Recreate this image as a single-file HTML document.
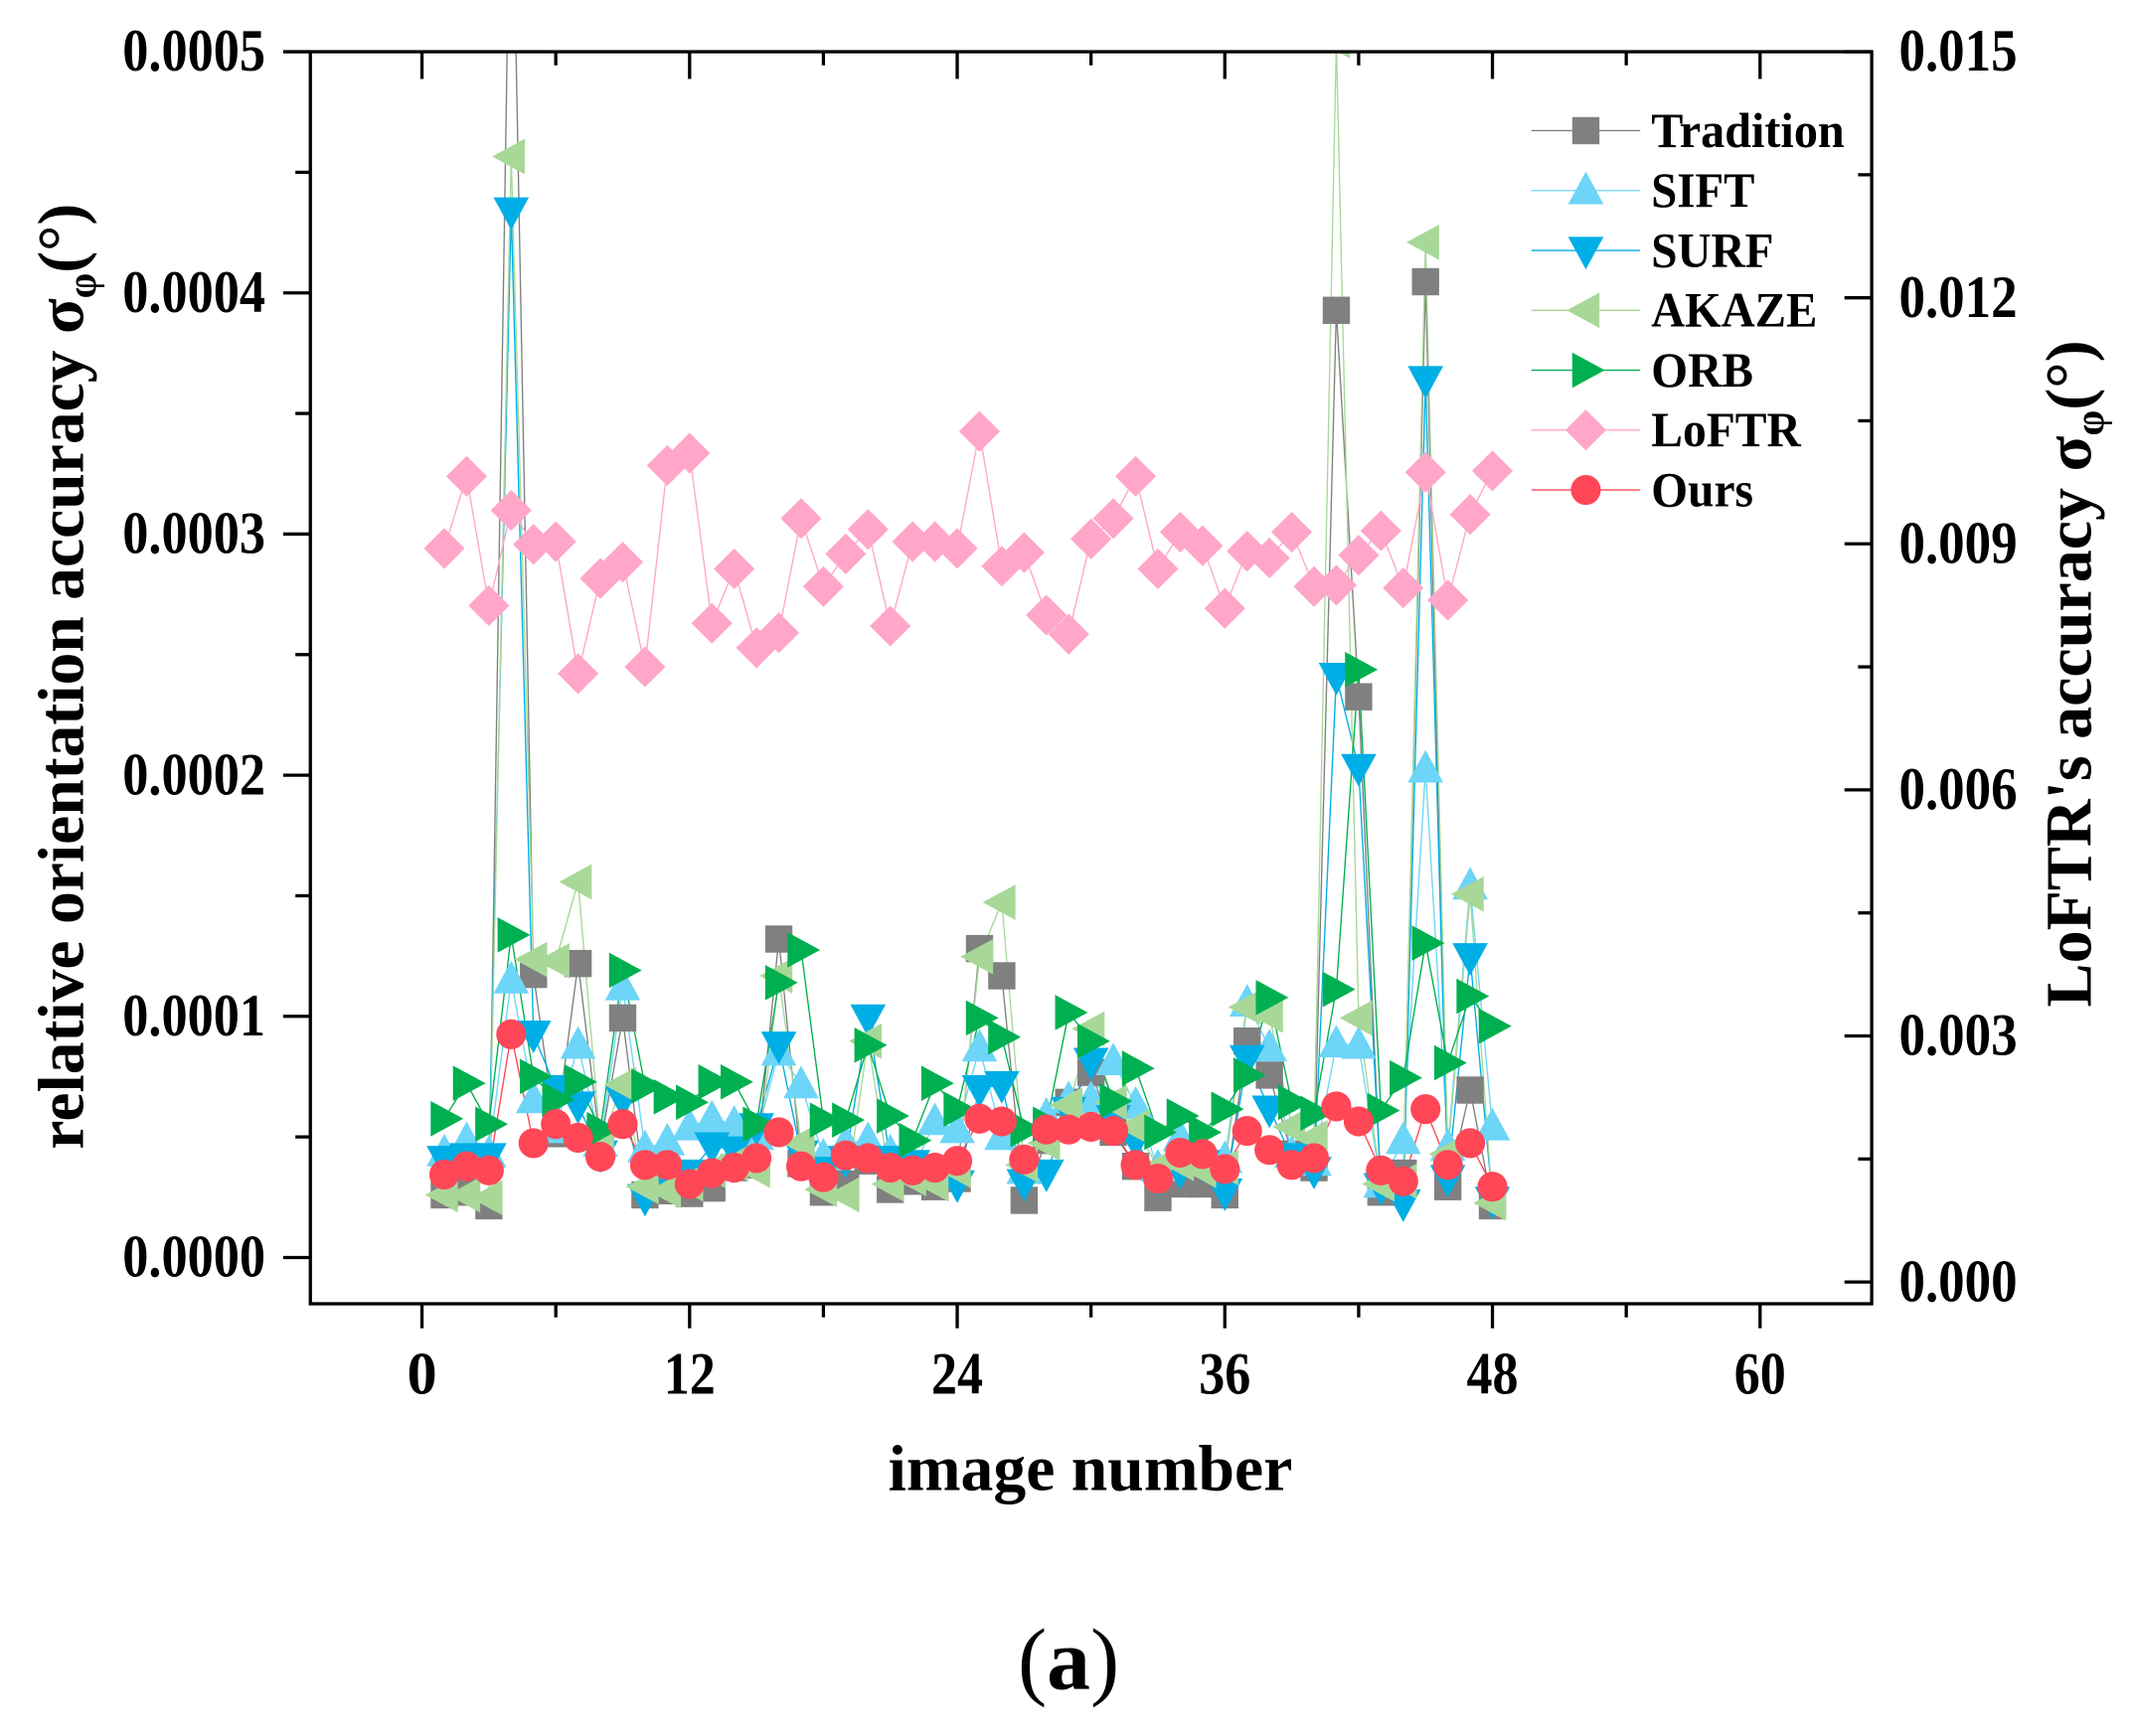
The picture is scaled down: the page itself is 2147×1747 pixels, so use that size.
<!DOCTYPE html>
<html><head><meta charset="utf-8"><style>
html,body{margin:0;padding:0;background:#fff;}
svg{display:block;}
text{font-family:"Liberation Serif","Times New Roman",serif;}
</style></head><body>
<svg id="s" width="2147" height="1747" viewBox="0 0 1567.7 1275.6" xmlns="http://www.w3.org/2000/svg">
<rect x="0" y="0" width="1567.7" height="1275.6" fill="#fff"/>
<defs><clipPath id="cp"><rect x="228" y="38" width="1147" height="920"/></clipPath></defs>
<g id="data" clip-path="url(#cp)"></g>
<g id="axes" stroke="#000" fill="none"></g>
<g id="labels" font-weight="bold" font-size="44" fill="#000"></g>
<g id="legend"></g>
<text x="801" y="1095" text-anchor="middle" font-weight="bold" font-size="48" textLength="297" lengthAdjust="spacingAndGlyphs">image number</text>
<text transform="translate(61,497) rotate(-90)" text-anchor="middle" font-weight="bold" font-size="48" textLength="695" lengthAdjust="spacingAndGlyphs">relative orientation accuracy σ<tspan font-size="30" dy="9">φ</tspan><tspan dy="-9">(°)</tspan></text>
<text transform="translate(1536,495) rotate(-90)" text-anchor="middle" font-weight="bold" font-size="48" textLength="490" lengthAdjust="spacingAndGlyphs">LoFTR's accuracy σ<tspan font-size="30" dy="9">φ</tspan><tspan dy="-9">(°)</tspan></text>
<text x="785" y="1241" text-anchor="middle" font-size="64">(<tspan font-weight="bold">a</tspan>)</text>
</svg>
<script>
const NS="http://www.w3.org/2000/svg";
function el(p,t,a){const e=document.createElementNS(NS,t);for(const k in a)e.setAttribute(k,a[k]);p.appendChild(e);return e;}
const X=i=>310+16.383*i;
const data=document.getElementById('data'),axes=document.getElementById('axes'),labels=document.getElementById('labels'),legend=document.getElementById('legend');
const S={
Tradition:{c:"#808080",m:"sq",y:[878,876,886,-150,716,833,708,842,748,878,875,877,873,858,856,690,855,876,870,853,874,868,872,866,697,717,882,838,810,788,832,857,880,870,870,878,765,790,848,858,228,512,876,862,207,872,801,886]},
SIFT:{c:"#6dd5f7",m:"tu",y:[847,838,848,720,808,830,768,840,725,844,839,828,822,826,835,773,797,850,840,838,847,860,824,830,770,835,860,820,808,808,780,812,858,836,848,852,737,770,848,854,767,768,870,838,565,843,651,828]},
SURF:{c:"#00aee6",m:"td",y:[852,850,850,155,760,800,812,848,808,880,866,862,842,845,828,768,848,860,852,748,852,855,860,870,800,797,869,862,816,780,822,838,865,860,855,876,778,815,850,860,497,564,872,884,279,866,703,882]},
AKAZE:{c:"#a8d898",m:"tl",y:[878,878,880,115,705,706,648,840,797,872,875,870,860,855,860,717,840,874,878,765,870,866,870,860,703,663,856,840,812,756,810,828,858,855,860,858,740,746,828,836,30,748,870,868,178,848,657,884]},
ORB:{c:"#00b050",m:"tr",y:[822,796,826,687,791,808,795,830,713,798,806,810,795,795,826,722,698,823,823,768,820,838,796,815,748,762,830,826,744,765,809,785,832,820,832,815,790,733,810,818,727,492,816,792,693,781,732,754]},
LoFTR:{c:"#ffa6c9",m:"di",y:[403,350,445,375,400,398,495,425,413,490,342,333,458,418,476,465,381,431,407,389,460,398,398,403,317,416,406,452,466,396,381,350,418,391,401,447,405,410,391,431,430,408,390,432,347,441,378,346]},
Ours:{c:"#ff4757",m:"ci",y:[863,857,860,760,840,826,836,850,826,856,856,870,862,858,851,832,857,865,849,851,858,860,858,853,822,824,852,830,830,828,831,856,866,847,848,859,831,845,856,851,813,824,860,868,815,856,840,872]}
};
function marker(g,m,x,y,c){
 if(m=="sq")el(g,"rect",{x:x-10,y:y-10,width:20,height:20,fill:c});
 else if(m=="tu")el(g,"polygon",{points:`${x},${y-14} ${x+13},${y+10} ${x-13},${y+10}`,fill:c});
 else if(m=="td")el(g,"polygon",{points:`${x},${y+14} ${x+13},${y-10} ${x-13},${y-10}`,fill:c});
 else if(m=="tl")el(g,"polygon",{points:`${x-14},${y} ${x+10},${y-13} ${x+10},${y+13}`,fill:c});
 else if(m=="tr")el(g,"polygon",{points:`${x+14},${y} ${x-10},${y-13} ${x-10},${y+13}`,fill:c});
 else if(m=="di")el(g,"polygon",{points:`${x},${y-15} ${x+15},${y} ${x},${y+15} ${x-15},${y}`,fill:c});
 else el(g,"circle",{cx:x,cy:y,r:11,fill:c});
}
for(const k in S){const s=S[k];
 el(data,"polyline",{points:s.y.map((v,i)=>X(i+1)+","+v).join(" "),fill:"none",stroke:s.c,"stroke-width":1});
}
for(const k in S){const s=S[k];s.y.forEach((v,i)=>marker(data,s.m,X(i+1),v,s.c));}
el(axes,"rect",{x:228,y:38,width:1147,height:920,"stroke-width":2.4});
for(let i=0;i<=10;i++){const y=924-88.6*i;const maj=i%2==0;el(axes,"line",{x1:228,x2:maj?208:217,y1:y,y2:y,"stroke-width":2.4});
 if(maj)el(labels,"text",{x:90,y:y+14,textLength:105,lengthAdjust:"spacingAndGlyphs"}).textContent=(i/2*0.0001).toFixed(4);}
for(let i=0;i<=10;i++){const y=942-90.4*i;const maj=i%2==0;el(axes,"line",{x1:1375,x2:maj?1355:1365,y1:y,y2:y,"stroke-width":2.4});
 if(maj)el(labels,"text",{x:1395,y:y+14,textLength:87,lengthAdjust:"spacingAndGlyphs"}).textContent=(i/2*0.003).toFixed(3);}
for(let i=0;i<=10;i++){const x=310+98.3*i;const maj=i%2==0;
 el(axes,"line",{x1:x,x2:x,y1:958,y2:maj?976:968,"stroke-width":2.4});
 el(axes,"line",{x1:x,x2:x,y1:38,y2:maj?58:48,"stroke-width":2.4});
 if(maj){const t=String(i*6);const a={x:x,y:1024,"text-anchor":"middle"};if(t.length>1){a.textLength=38;a.lengthAdjust="spacingAndGlyphs";}el(labels,"text",a).textContent=t;}}
const LW={Tradition:142,SIFT:76,SURF:90,AKAZE:122,ORB:75,LoFTR:110,Ours:75};
let r=0;for(const k in S){const s=S[k];const y=96+44*r;r++;
 el(legend,"line",{x1:1125,x2:1205,y1:y,y2:y,stroke:s.c,"stroke-width":1});
 marker(legend,s.m,1165,y,s.c);
 const t=el(legend,"text",{x:1213,y:y+12,"font-size":36,"font-weight":"bold",fill:"#000",textLength:LW[k],lengthAdjust:"spacingAndGlyphs"});t.textContent=k;}
</script>
</body></html>
